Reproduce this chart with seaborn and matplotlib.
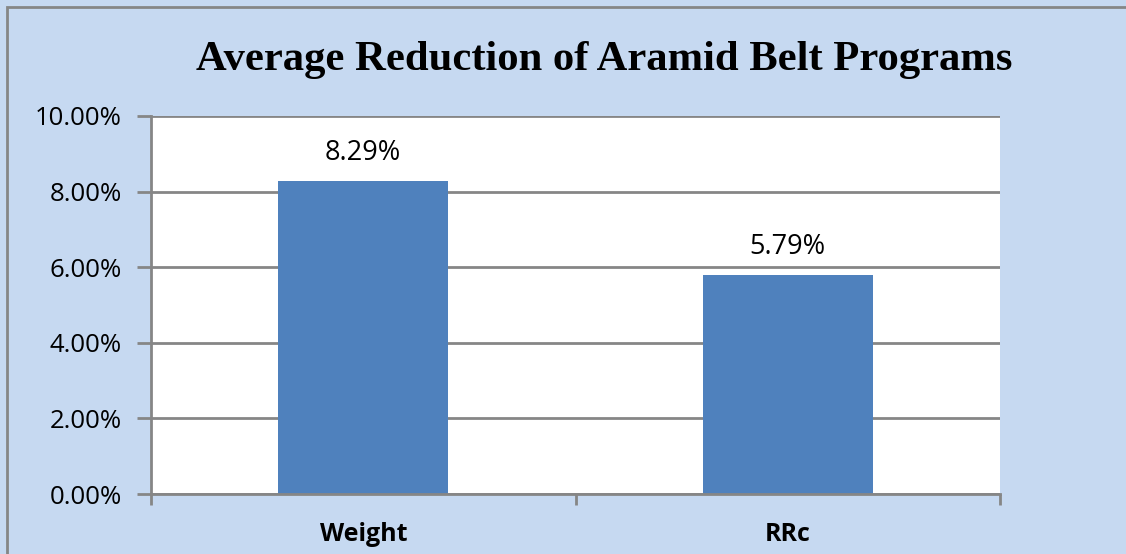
import matplotlib
matplotlib.use("Agg")
import matplotlib.pyplot as plt
import seaborn as sns
import pandas as pd
from matplotlib.patches import Rectangle
from matplotlib.ticker import FixedLocator

categories = ["Weight", "RRc"]
values = [8.29, 5.79]
value_labels = ["8.29%", "5.79%"]
y_ticks = [0, 2, 4, 6, 8, 10]
y_tick_labels = ["0.00%", "2.00%", "4.00%", "6.00%", "8.00%", "10.00%"]
title = "Average Reduction of Aramid Belt Programs"

bg = "#C6D9F1"
bar_color = "#4F81BD"
grid_color = "#868686"

sns.set_theme(style="white")
plt.rcParams["font.family"] = ["Open Sans", "DejaVu Sans"]

W, H = 1126, 554
fig = plt.figure(figsize=(W / 100, H / 100), dpi=100)
fig.patch.set_facecolor(bg)

# plot area in pixel coords
left, right, top, bottom = 151, 1000, 116, 494
ax = fig.add_axes([left / W, 1 - bottom / H, (right - left) / W, (bottom - top) / H])
ax.set_facecolor("white")

df = pd.DataFrame({"cat": categories, "val": values})
sns.barplot(data=df, x="cat", y="val", color=bar_color, width=0.40,
            saturation=1, ax=ax, zorder=3, edgecolor="none")

ax.set_ylim(0, 10)
ax.set_xlim(-0.5, 1.5)
ax.set_yticks(y_ticks)
ax.set_yticklabels(y_tick_labels, fontsize=18.5, color="black")
ax.yaxis.grid(True, color=grid_color, linewidth=2, zorder=0)
ax.set_axisbelow(True)
ax.tick_params(axis="y", which="major", length=10, width=2, color=grid_color,
               left=True, pad=11)

ax.set_xticks(range(len(categories)))
ax.set_xticklabels(categories, fontsize=18, fontweight="bold", color="black")
ax.tick_params(axis="x", which="major", length=0, pad=20)
ax.xaxis.set_minor_locator(FixedLocator([-0.5, 0.5, 1.5]))
ax.tick_params(axis="x", which="minor", length=8, width=2, color=grid_color,
               bottom=True)

ax.set_xlabel("")
ax.set_ylabel("")
for side in ["top", "right"]:
    ax.spines[side].set_visible(False)
for side in ["left", "bottom"]:
    ax.spines[side].set_visible(True)
    ax.spines[side].set_color(grid_color)
    ax.spines[side].set_linewidth(2)
    ax.spines[side].set_zorder(4)

for i, (v, lab) in enumerate(zip(values, value_labels)):
    ax.annotate(lab, xy=(i, v), xytext=(0, 10), textcoords="offset points",
                ha="center", va="bottom", fontsize=19.5, color="black")

fig.text(604 / W, 1 - 60 / H, title, ha="center", va="center",
         fontsize=30.7, fontweight="bold", family=["Liberation Serif", "DejaVu Serif"],
         color="black")

# outer border (top and left visible; right/bottom run off the image)
fig.patches.append(Rectangle((7.5 / W, -0.1), 1.2, 1 - 7.5 / H + 0.1,
                             transform=fig.transFigure, fill=False,
                             edgecolor=grid_color, linewidth=2, figure=fig))

fig.savefig("out.png", dpi=100, facecolor=bg)
